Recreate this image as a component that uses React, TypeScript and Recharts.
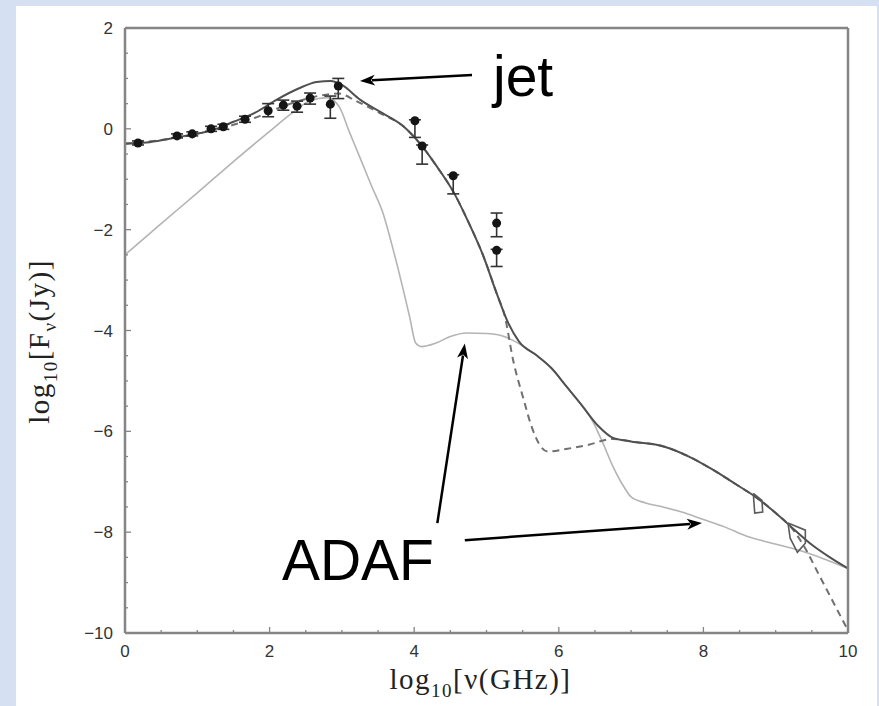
import React from 'react';
import { ComposedChart, Line, Scatter, XAxis, YAxis, ErrorBar, ReferenceLine, ReferenceDot } from 'recharts';

// tick positions (minor every 0.5, labelled every 2)
const xTicks = [0, 0.5, 1, 1.5, 2, 2.5, 3, 3.5, 4, 4.5, 5, 5.5, 6, 6.5, 7, 7.5, 8, 8.5, 9, 9.5, 10];
const yTicks = [-10, -9.5, -9, -8.5, -8, -7.5, -7, -6.5, -6, -5.5, -5, -4.5, -4, -3.5, -3, -2.5, -2, -1.5, -1, -0.5, 0, 0.5, 1, 1.5, 2];

// model curves, [log nu, log F]
const totalCurve: [number, number][] = [
  [0, -0.29], [0.3, -0.27], [0.6, -0.2], [0.9, -0.12], [1.2, -0.03], [1.5, 0.14], [1.8, 0.32], [2.1, 0.58],
  [2.4, 0.8], [2.65, 0.93], [2.85, 0.95], [3.0, 0.87], [3.25, 0.58], [3.55, 0.32], [3.85, 0.05], [4.1, -0.33],
  [4.3, -0.72], [4.55, -1.27], [4.75, -1.85], [4.95, -2.5], [5.15, -3.3], [5.3, -3.85], [5.45, -4.22], [5.7, -4.5],
  [5.9, -4.75], [6.1, -5.1], [6.3, -5.45], [6.55, -5.9], [6.75, -6.13], [7.0, -6.2], [7.45, -6.3], [7.8, -6.5],
  [8.13, -6.76], [8.45, -7.05], [8.75, -7.33], [9.0, -7.62], [9.25, -7.94], [9.5, -8.25], [9.75, -8.5], [10, -8.72],
];
const jetCurve: [number, number][] = [
  [0, -0.3], [0.5, -0.22], [1.0, -0.1], [1.5, 0.08], [1.8, 0.22], [2.1, 0.4], [2.4, 0.55], [2.7, 0.66],
  [2.95, 0.7], [3.2, 0.55], [3.5, 0.33], [3.85, 0.05], [4.1, -0.33], [4.3, -0.72], [4.55, -1.27], [4.75, -1.85],
  [4.95, -2.5], [5.15, -3.3], [5.25, -3.7], [5.37, -4.6], [5.5, -5.3], [5.64, -5.97], [5.75, -6.3], [5.85, -6.4],
  [6.1, -6.35], [6.4, -6.27], [6.75, -6.15], [7.0, -6.2], [7.45, -6.3], [7.8, -6.5], [8.13, -6.76], [8.45, -7.05],
  [8.75, -7.33], [9.0, -7.62], [9.25, -7.97], [9.4, -8.3], [9.6, -8.85], [9.8, -9.4], [10, -9.95],
];
const adafCurve: [number, number][] = [
  [0, -2.5], [0.5, -1.88], [1.0, -1.27], [1.5, -0.65], [2.0, -0.05], [2.3, 0.3], [2.55, 0.55], [2.8, 0.62],
  [2.97, 0.42], [3.1, -0.05], [3.25, -0.57], [3.4, -1.1], [3.57, -1.68], [3.71, -2.4], [3.85, -3.2], [3.94, -3.75],
  [4.02, -4.25], [4.1, -4.32], [4.3, -4.25], [4.5, -4.12], [4.73, -4.05], [5.0, -4.06], [5.2, -4.1], [5.4, -4.22],
  [5.7, -4.5], [5.9, -4.75], [6.1, -5.1], [6.3, -5.45], [6.45, -5.75], [6.6, -6.2], [6.75, -6.7], [6.9, -7.1],
  [7.0, -7.3], [7.2, -7.42], [7.44, -7.5], [7.7, -7.6], [8.0, -7.75], [8.3, -7.9], [8.6, -8.08], [8.95, -8.22],
  [9.3, -8.35], [9.65, -8.52], [10, -8.72],
];

// X-ray bowties
const bowtieA: [number, number][] = [[8.69, -7.23], [8.81, -7.37], [8.82, -7.6], [8.71, -7.62], [8.69, -7.23]];
const bowtieB: [number, number][] = [[9.17, -7.82], [9.41, -7.96], [9.41, -8.22], [9.3, -8.4], [9.2, -8.12], [9.17, -7.82]];

// observed fluxes: x, y, [error down, error up]
const obsX = [0.18, 0.72, 0.93, 1.19, 1.36, 1.66, 1.98, 2.19, 2.38, 2.56, 2.84, 2.95, 4.01, 4.11, 4.54, 5.14, 5.14];
const obsY = [-0.28, -0.14, -0.1, 0.0, 0.04, 0.19, 0.36, 0.47, 0.45, 0.61, 0.49, 0.85, 0.16, -0.34, -0.93, -1.87, -2.41];
const obsErr: [number, number][] = [
  [0.04, 0.04], [0.04, 0.04], [0.04, 0.04], [0.05, 0.05], [0.05, 0.05], [0.06, 0.06], [0.12, 0.14], [0.1, 0.1],
  [0.12, 0.1], [0.12, 0.1], [0.28, 0.16], [0.25, 0.15], [0.33, 0.02], [0.36, 0.02], [0.36, 0.02], [0.27, 0.2], [0.32, 0.02],
];

// annotations
const arrowFrom: [number, number][] = [[4.8, 1.07], [4.32, -7.82], [4.7, -8.16]];
const arrowTo: [number, number][] = [[3.25, 0.95], [4.7, -4.26], [7.98, -7.82]];
const noteText = ['jet', 'ADAF'];
const notePos: [number, number][] = [[5.09, 0.65], [2.17, -8.95]];

const pts = (arr: [number, number][]) => arr.map(([x, y]) => ({ x, y }));
const observed = obsX.map((x, i) => ({ x, y: obsY[i], err: obsErr[i] }));

const FRAME = '#858585';
const LABEL = '#333';
const sans = '"Liberation Sans", Arial, Helvetica, sans-serif';
const serif = '"Liberation Serif", "Times New Roman", serif';

const fmt = (v: number) => (v < 0 ? '\u2212' + Math.abs(v) : String(v));
const isMajor = (v: number) => Math.abs(v % 2) < 1e-6;

const BottomTick = ({ x, y, payload }: any) => {
  const v = payload.value;
  return (
    <g>
      <line x1={x} x2={x} y1={y} y2={y - (isMajor(v) ? 6 : 3)} stroke={FRAME} strokeWidth={1.3} />
      {isMajor(v) && (
        <text x={x} y={y + 24} textAnchor="middle" fontFamily={sans} fontSize={17} fill={LABEL}>{fmt(v)}</text>
      )}
    </g>
  );
};
const TopTick = ({ x, y, payload }: any) => (
  <line x1={x} x2={x} y1={y} y2={y + (isMajor(payload.value) ? 6 : 3)} stroke={FRAME} strokeWidth={1.3} />
);
const LeftTick = ({ x, y, payload }: any) => {
  const v = payload.value;
  return (
    <g>
      <line x1={x} x2={x + (isMajor(v) ? 6 : 3)} y1={y} y2={y} stroke={FRAME} strokeWidth={1.3} />
      {isMajor(v) && (
        <text x={x - 12} y={y + 6} textAnchor="end" fontFamily={sans} fontSize={17} fill={LABEL}>{fmt(v)}</text>
      )}
    </g>
  );
};
const RightTick = ({ x, y, payload }: any) => (
  <line x1={x} x2={x - (isMajor(payload.value) ? 6 : 3)} y1={y} y2={y} stroke={FRAME} strokeWidth={1.3} />
);

const Arrow = ({ x1, y1, x2, y2 }: any) => {
  const a = Math.atan2(y2 - y1, x2 - x1);
  const len = 15;
  const half = 5.5;
  const bx = x2 - len * Math.cos(a);
  const by = y2 - len * Math.sin(a);
  const p1 = `${bx + half * Math.sin(a)},${by - half * Math.cos(a)}`;
  const p2 = `${bx - half * Math.sin(a)},${by + half * Math.cos(a)}`;
  return (
    <g>
      <line x1={x1} y1={y1} x2={bx + 3 * Math.cos(a)} y2={by + 3 * Math.sin(a)} stroke="#000" strokeWidth={2.5} />
      <polygon points={`${x2},${y2} ${p1} ${bx + 4 * Math.cos(a)},${by + 4 * Math.sin(a)} ${p2}`} fill="#000" />
    </g>
  );
};

const XTitle = ({ viewBox }: any) => (
  <text x={viewBox.x + viewBox.width / 2 - 6} y={viewBox.y + 56} textAnchor="middle" fontFamily={serif} fontSize={29} letterSpacing={1.5} fill="#222">
    log<tspan fontSize={19} dy={8}>10</tspan>
    <tspan dy={-8}>[ν(GHz)]</tspan>
  </text>
);
const YTitle = ({ viewBox }: any) => {
  const cx = viewBox.x + viewBox.width - 76;
  const cy = viewBox.y + viewBox.height / 2 + 11;
  return (
    <text x={cx} y={cy} transform={`rotate(-90, ${cx}, ${cy})`} textAnchor="middle" fontFamily={serif} fontSize={29} letterSpacing={1.5} fill="#222">
      log<tspan fontSize={19} dy={8}>10</tspan>
      <tspan dy={-8}>[F</tspan>
      <tspan fontSize={19} dy={7}>ν</tspan>
      <tspan dy={-7}>(Jy)]</tspan>
    </text>
  );
};

export default function App() {
  return (
    <div style={{ position: 'absolute', left: 0, top: 0, width: 879, height: 706, background: '#d5e0f2' }}>
      <div style={{ position: 'absolute', left: 16, top: 6, width: 861, height: 700, background: '#fff' }} />
      <div style={{ position: 'absolute', left: 0, top: 0 }}>
        <ComposedChart width={879} height={706} margin={{ top: 27, right: 30, bottom: 72, left: 124 }}>
          <XAxis
            dataKey="x"
            type="number"
            domain={[0, 10]}
            ticks={xTicks}
            interval={0}
            height={1}
            tickSize={0}
            tickMargin={0}
            tickLine={false}
            tick={<BottomTick />}
            axisLine={{ stroke: FRAME, strokeWidth: 2.5 }}
            label={<XTitle />}
          />
          <XAxis
            xAxisId="top"
            orientation="top"
            type="number"
            domain={[0, 10]}
            ticks={xTicks}
            interval={0}
            height={1}
            tickSize={0}
            tickMargin={0}
            tickLine={false}
            tick={<TopTick />}
            axisLine={{ stroke: FRAME, strokeWidth: 2.5 }}
          />
          <YAxis
            type="number"
            domain={[-10, 2]}
            ticks={yTicks}
            interval={0}
            width={1}
            tickSize={0}
            tickMargin={0}
            tickLine={false}
            tick={<LeftTick />}
            axisLine={{ stroke: FRAME, strokeWidth: 2.5 }}
            label={<YTitle />}
          />
          <YAxis
            yAxisId="right"
            orientation="right"
            type="number"
            domain={[-10, 2]}
            ticks={yTicks}
            interval={0}
            width={1}
            tickSize={0}
            tickMargin={0}
            tickLine={false}
            tick={<RightTick />}
            axisLine={{ stroke: FRAME, strokeWidth: 2.5 }}
          />

          <Line data={pts(adafCurve)} dataKey="y" type="monotone" stroke="#b4b4b4" strokeWidth={1.6} dot={false} isAnimationActive={false} />
          <Line data={pts(jetCurve)} dataKey="y" type="monotone" stroke="#707070" strokeWidth={2} strokeDasharray="7 5" dot={false} isAnimationActive={false} />
          <Line data={pts(totalCurve)} dataKey="y" type="monotone" stroke="#505050" strokeWidth={2} dot={false} isAnimationActive={false} />
          <Line data={pts(bowtieA)} dataKey="y" type="linear" stroke="#5a5a5a" strokeWidth={1.6} dot={false} isAnimationActive={false} />
          <Line data={pts(bowtieB)} dataKey="y" type="linear" stroke="#5a5a5a" strokeWidth={1.6} dot={false} isAnimationActive={false} />

          <Scatter data={observed} dataKey="y" fill="#151515" isAnimationActive={false}>
            <ErrorBar dataKey="err" direction="y" width={6} stroke="#333" strokeWidth={1.6} />
          </Scatter>

          {arrowFrom.map((f, i) => (
            <ReferenceLine
              key={'arrow' + i}
              segment={[{ x: f[0], y: f[1] }, { x: arrowTo[i][0], y: arrowTo[i][1] }]}
              ifOverflow="visible"
              shape={<Arrow />}
            />
          ))}
          {noteText.map((t, i) => (
            <ReferenceDot
              key={t}
              x={notePos[i][0]}
              y={notePos[i][1]}
              ifOverflow="visible"
              shape={({ cx, cy }: any) => (
                <text x={cx} y={cy} fontFamily={sans} fontSize={57} fill="#000">{t}</text>
              )}
            />
          ))}
        </ComposedChart>
      </div>
    </div>
  );
}
